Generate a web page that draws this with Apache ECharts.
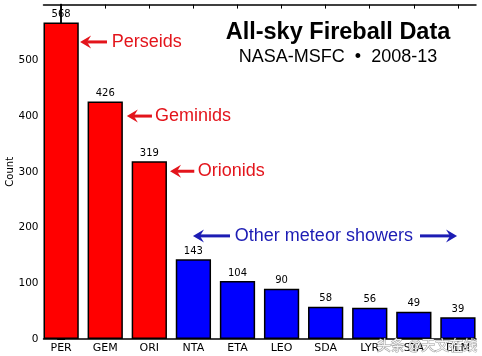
<!DOCTYPE html>
<html>
<head>
<meta charset="utf-8">
<script src="https://cdn.jsdelivr.net/npm/echarts@6/dist/echarts.min.js"></script>
<style>html,body{margin:0;padding:0;background:#fff}#c{width:482px;height:356px}</style>
</head>
<body>
<div id="c"></div>
<script>
// ---- data ----
const categories = ['PER', 'GEM', 'ORI', 'NTA', 'ETA', 'LEO', 'SDA', 'LYR', 'STA', 'DLM'];
const counts = [568, 426, 319, 143, 104, 90, 58, 56, 49, 39];
const majorShowers = ['PER', 'GEM', 'ORI'];
const yTicks = [0, 100, 200, 300, 400, 500];
const titleText = 'All-sky Fireball Data';
const subtitleText = 'NASA-MSFC  \u2022  2008-13';
const yAxisName = 'Count';
// annotations in data units: [tipX, tailX, textX, y]
const annLabels = ['Perseids', 'Geminids', 'Orionids'];
const annTipX = [0.43, 1.49, 2.47];
const annTailX = [1.04, 2.06, 3.02];
const annTextX = [1.15, 2.13, 3.10];
const annY = [533, 400, 301];
const otherLabel = 'Other meteor showers';
const otherLeft = [2.99, 3.83];   // tip, tail
const otherTextX = 3.94;
const otherRight = [8.14, 8.98];  // tail, tip
const otherY = 185;
const watermark = '头条 @天文在线';

const RED = '#ff0000', BLUE = '#0000ff';
const ANN_RED = '#e3141b', ANN_BLUE = '#1c1cb4';
const idx = categories.map((_, i) => i);

const chart = echarts.init(document.getElementById('c'), null, {renderer: 'canvas'});
const axisFont = {fontFamily: 'DejaVu Sans', fontSize: 10, color: '#000'};
const lineStyle = {color: '#000', width: 1.5};

const xCommon = {
  type: 'value', min: -0.4, max: 9.41,
  axisLine: {show: true, onZero: false, lineStyle},
  splitLine: {show: false},
  axisTick: {show: true, inside: true, length: 4, customValues: idx, lineStyle: {color: '#000', width: 1}},
};
const yCommon = {
  type: 'value', min: 0, max: 600, interval: 100,
  axisLine: {show: true, lineStyle},
  splitLine: {show: false},
  axisTick: {show: true, inside: true, length: 4, customValues: yTicks, lineStyle: {color: '#000', width: 1}},
};

chart.setOption({
  animation: false,
  backgroundColor: '#fff',
  grid: {left: 43.5, right: 6, top: 4.6, bottom: 17, containLabel: false, outerBoundsMode: 'none'},
  xAxis: [
    Object.assign({}, xCommon, {
      position: 'bottom',
      axisLabel: Object.assign({show: true, margin: 4, customValues: idx, formatter: v => categories[Math.round(v)]}, axisFont, {fontSize: 11})
    }),
    Object.assign({}, xCommon, {position: 'top', axisLabel: {show: false}})
  ],
  yAxis: [
    Object.assign({}, yCommon, {
      position: 'left',
      name: yAxisName, nameLocation: 'middle', nameGap: 28, nameRotate: 90,
      nameMoveOverlap: false,
      nameTextStyle: axisFont,
      axisLabel: Object.assign({show: true, margin: 5, customValues: yTicks}, axisFont, {fontSize: 10.5})
    }),
    Object.assign({}, yCommon, {position: 'right', axisLabel: {show: false}})
  ],
  series: [{
    type: 'bar',
    xAxisIndex: 0, yAxisIndex: 0,
    barWidth: '80%',
    z: 3,
    data: counts.map((v, i) => ({
      value: [i, v],
      itemStyle: {color: majorShowers.includes(categories[i]) ? RED : BLUE, borderColor: '#000', borderWidth: 1.5}
    })),
    label: Object.assign({show: true, position: 'top', distance: 3, formatter: p => String(p.value[1])}, axisFont)
  }]
});

function px(x, y) { return chart.convertToPixel({xAxisIndex: 0, yAxisIndex: 0}, [x, y]); }

function arrow(tip, tail, color) {
  const dir = Math.sign(tail[0] - tip[0]);
  const hl = 11, hw = 6.5, notch = 7;
  return [
    {type: 'line', z: 10, shape: {x1: tip[0] + dir * notch, y1: tip[1], x2: tail[0], y2: tail[1]},
     style: {stroke: color, lineWidth: 3}},
    {type: 'polygon', z: 10, shape: {points: [
      [tip[0], tip[1]], [tip[0] + dir * hl, tip[1] - hw], [tip[0] + dir * notch, tip[1]], [tip[0] + dir * hl, tip[1] + hw]
    ]}, style: {fill: color}}
  ];
}

const g = [];
g.push({type: 'text', z: 10, x: 338, y: 33, style: {text: titleText, font: 'bold 23.5px "Liberation Sans", Arial, sans-serif', fill: '#000', align: 'center', verticalAlign: 'middle'}});
g.push({type: 'text', z: 10, x: 338, y: 57, style: {text: subtitleText, font: '18px "Liberation Sans", Arial, sans-serif', fill: '#000', align: 'center', verticalAlign: 'middle'}});

annLabels.forEach((t, i) => {
  const tip = px(annTipX[i], annY[i]);
  const tail = px(annTailX[i], annY[i]);
  const tp = px(annTextX[i], annY[i]);
  g.push(...arrow(tip, tail, ANN_RED));
  g.push({type: 'text', z: 10, x: tp[0], y: tp[1], style: {text: t, font: '18px "Liberation Sans", Arial, sans-serif', fill: ANN_RED, align: 'left', verticalAlign: 'middle'}});
});
{
  const lt = px(otherLeft[0], otherY), ltl = px(otherLeft[1], otherY);
  const rtl = px(otherRight[0], otherY), rt = px(otherRight[1], otherY);
  const tp = px(otherTextX, otherY);
  g.push(...arrow(lt, ltl, ANN_BLUE));
  g.push(...arrow(rt, rtl, ANN_BLUE));
  g.push({type: 'text', z: 10, x: tp[0], y: tp[1], style: {text: otherLabel, font: '18px "Liberation Sans", Arial, sans-serif', fill: ANN_BLUE, align: 'left', verticalAlign: 'middle'}});
}
g.push({type: 'text', z: 20, x: 427, y: 345, style: {text: watermark, font: '14px "Noto Sans CJK SC", sans-serif', fill: 'rgba(255,255,255,0.9)', stroke: 'rgba(70,70,70,0.55)', lineWidth: 1, align: 'center', verticalAlign: 'middle'}});

chart.setOption({graphic: g});
</script>
</body>
</html>
